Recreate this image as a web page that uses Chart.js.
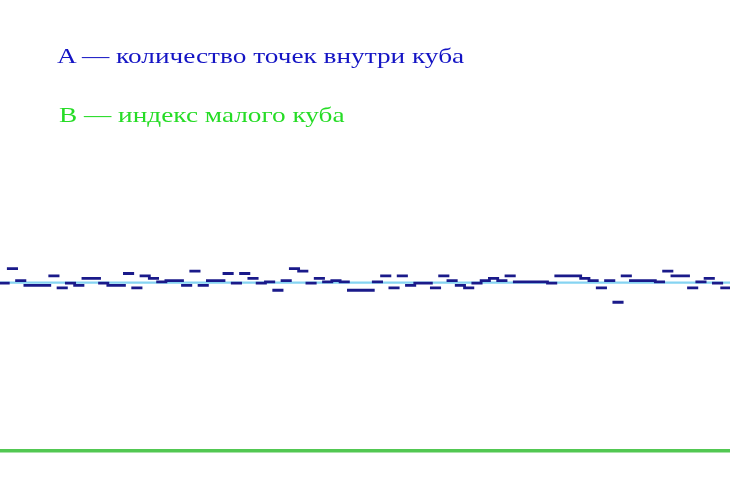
<!DOCTYPE html>
<html>
<head>
<meta charset="utf-8">
<script src="https://cdn.jsdelivr.net/npm/chart.js@4"></script>
<style>
  body { margin: 0; background: #fff; }
  #wrap { position: relative; width: 730px; height: 486px; overflow: hidden; }
  .lbl { position: absolute; font-family: "Liberation Serif", "Times New Roman", serif; font-size: 22px; line-height: 22px; white-space: nowrap; transform: scaleX(1.24); transform-origin: 0 0; }
  #lblA { left: 57px; top: 45px; color: #1414c4; }
  #lblB { left: 59px; top: 104px; color: #26dc26; }
</style>
</head>
<body>
<div id="wrap">
  <canvas id="chart" width="730" height="486"></canvas>
  <div class="lbl" id="lblA">A — количество точек внутри куба</div>
  <div class="lbl" id="lblB">B — индекс малого куба</div>
</div>
<script>
// A: points inside each small cube, in cube order (B = index)
const countA = [
  70, 76, 71, 69, 69, 69, 73, 68, 70, 69,
  72, 72, 70, 69, 69, 74, 68, 73, 72, 70.5,
  71, 71, 69, 75, 69, 71, 71, 74, 70, 74,
  72, 70, 70.5, 67, 71, 76, 75, 70, 72, 70.5,
  71, 70.5, 67, 67, 67, 70.5, 73, 68, 73, 69,
  70, 70, 68, 73, 71, 69, 68, 70, 71, 72,
  71, 73, 70.5, 70.5, 70.5, 70.5, 70, 73, 73, 73,
  72, 71, 68, 71, 62, 73, 71, 71, 71, 70.5,
  75, 73, 73, 68, 70.5, 72, 70, 68
];
// average number of points per cube
const meanA = 70.2;
const yRange = [0, 188];

// each cube is one flat dash from B to B+1
const dashes = [];
countA.forEach((v, i) => {
  dashes.push({ x: i, y: v }, { x: i + 1, y: v }, { x: i + 1, y: null });
});
const meanLine = [{ x: 0, y: meanA }, { x: countA.length, y: meanA }];

new Chart(document.getElementById("chart").getContext("2d"), {
  type: "line",
  data: {
    datasets: [
      {
        label: "A",
        data: dashes,
        borderColor: "#1a1a8a",
        borderWidth: 2.8,
        borderCapStyle: "square",
        pointRadius: 0,
        spanGaps: false,
        fill: false,
      },
      {
        label: "mean",
        data: meanLine,
        borderColor: "#86d4f2",
        borderWidth: 2.4,
        pointRadius: 0,
        fill: false,
      },
    ],
  },
  options: {
    responsive: false,
    animation: false,
    layout: { padding: { top: 0, left: 0, right: 0, bottom: 35 } },
    plugins: { legend: { display: false }, tooltip: { enabled: false } },
    scales: {
      x: {
        type: "linear",
        min: 0,
        max: countA.length,
        ticks: { display: false },
        grid: { display: false, drawTicks: false },
        border: { display: true, color: "#52c852", width: 3.4 },
      },
      y: {
        min: yRange[0],
        max: yRange[1],
        display: false,
      },
    },
  },
});
</script>
</body>
</html>
